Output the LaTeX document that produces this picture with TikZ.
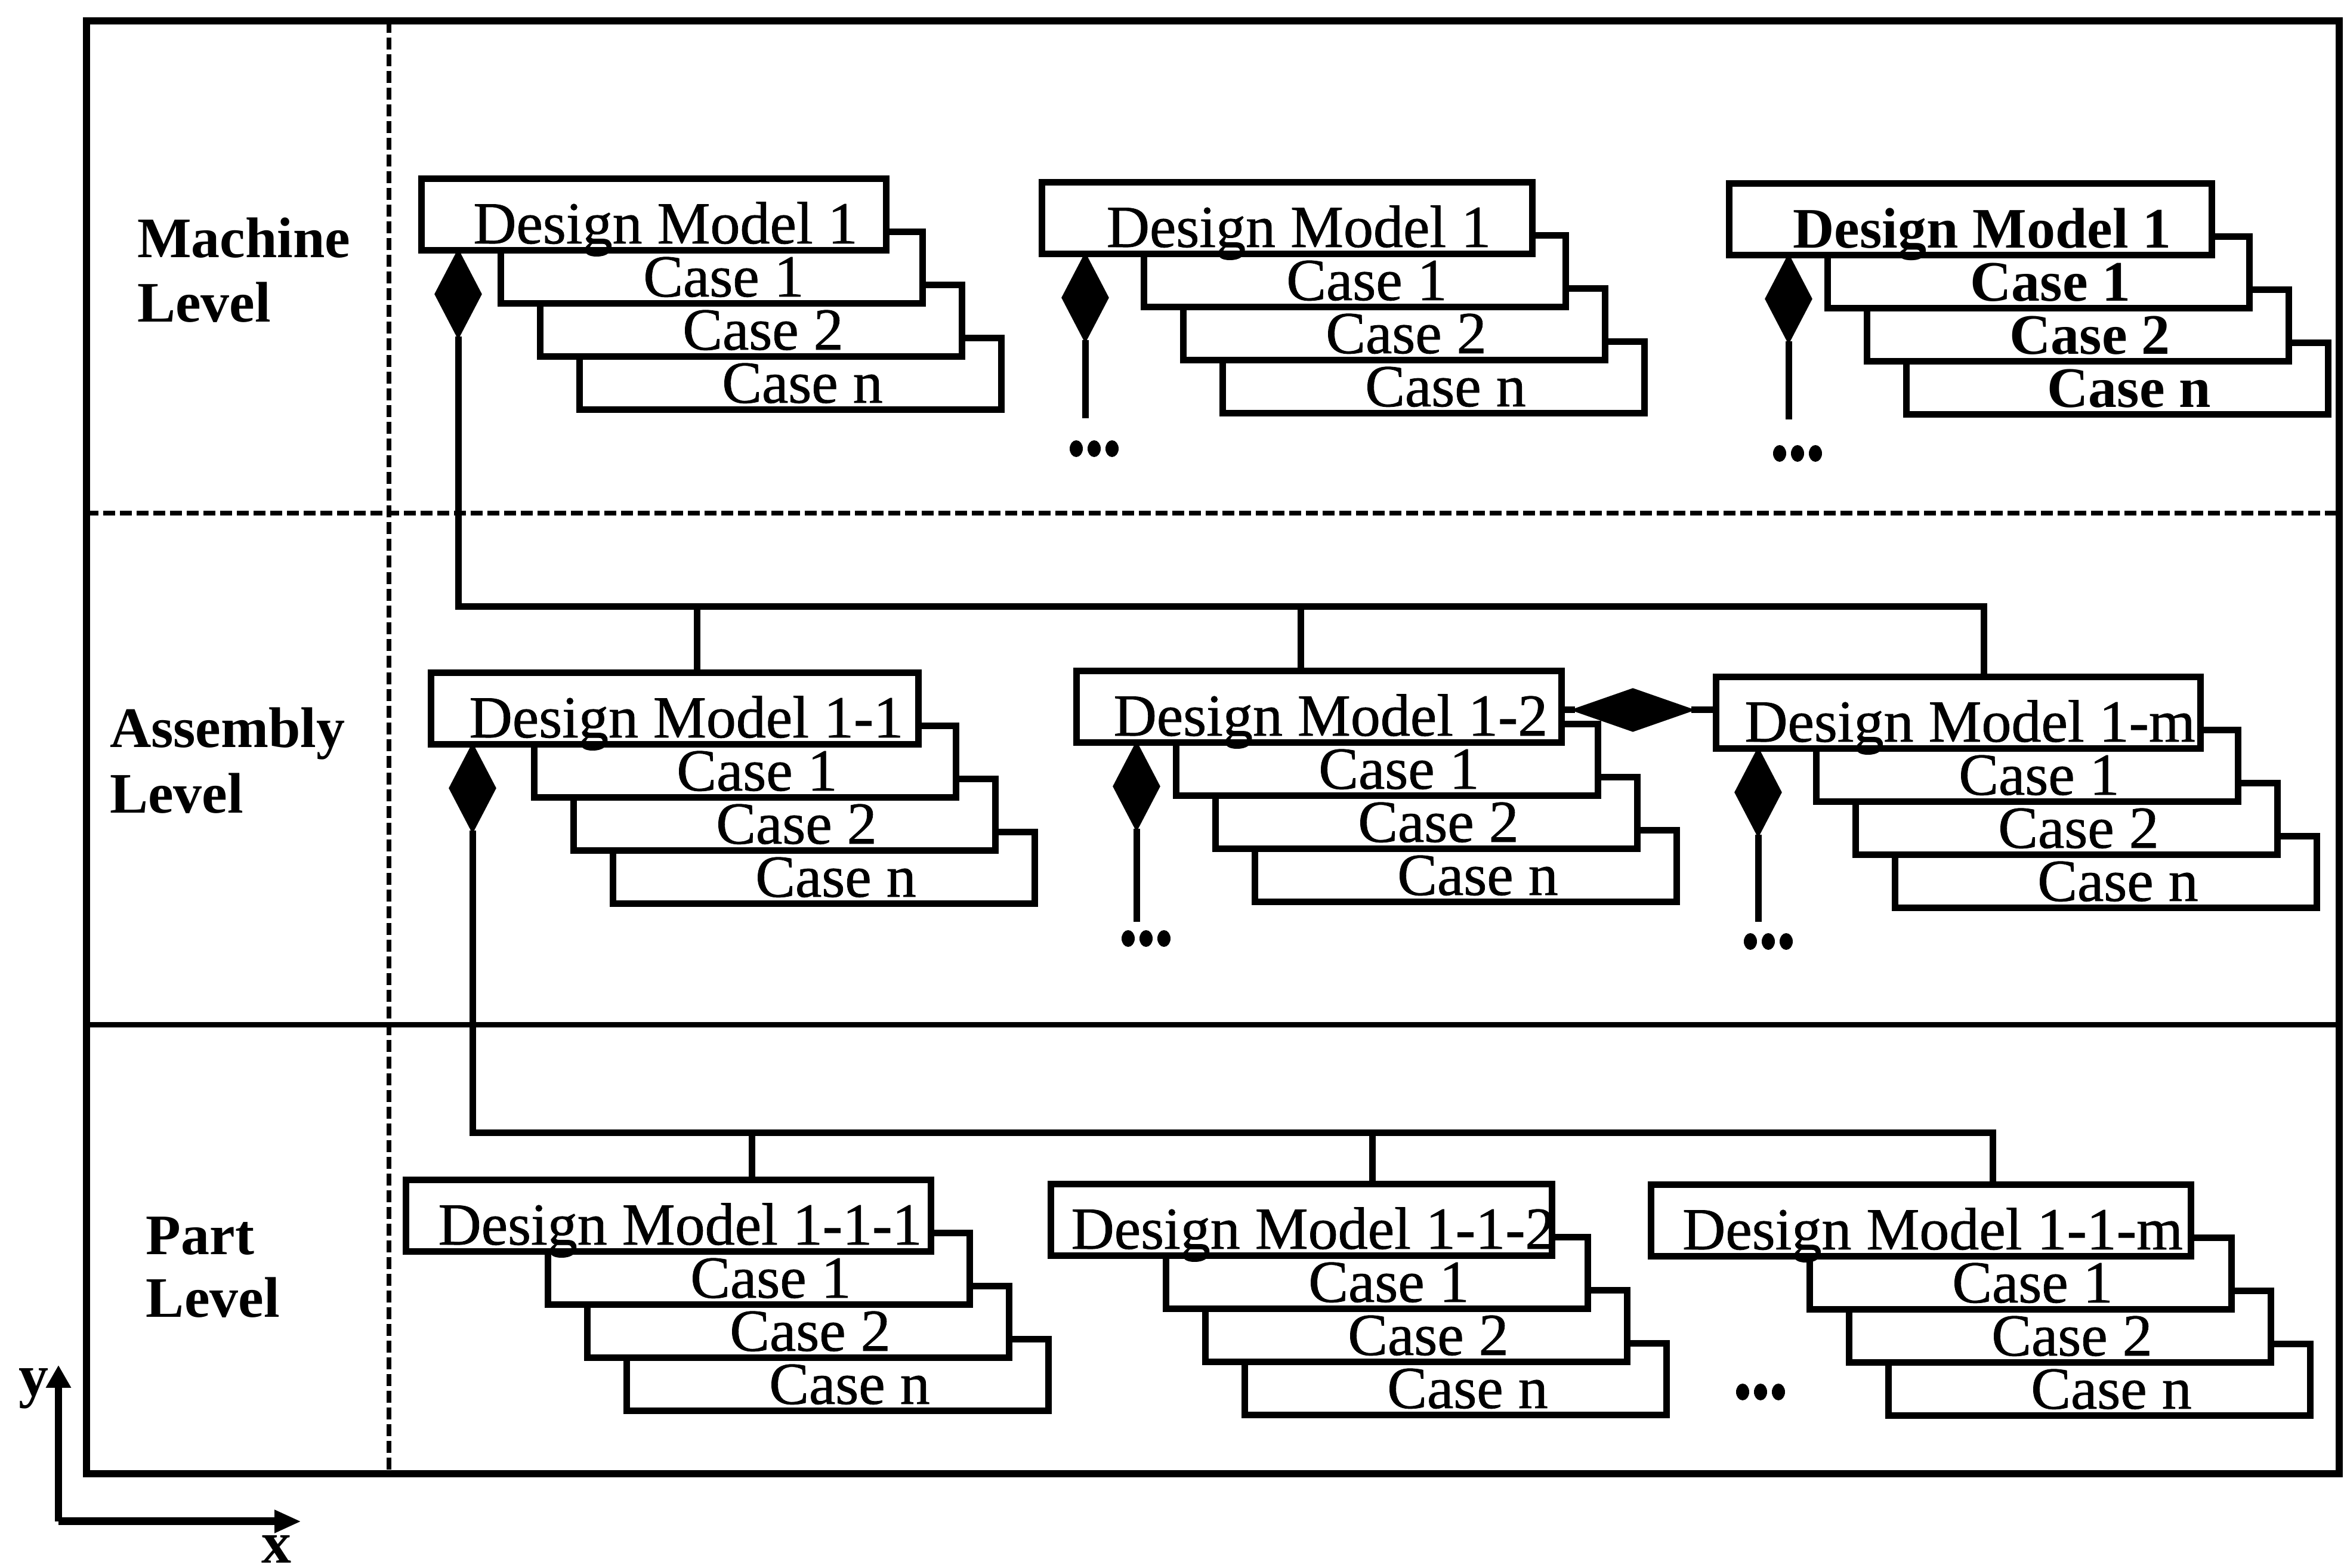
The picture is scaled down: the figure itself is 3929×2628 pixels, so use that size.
\documentclass[tikz,border=0pt]{standalone}
\usepackage{fontspec}
\setmainfont{Liberation Serif}
\newfontfamily\boxfont[FakeBold=0.8]{Liberation Serif}
\usetikzlibrary{shapes.geometric,arrows.meta}
\tikzset{
  box/.style={draw, fill=white, line width=1.1pt, inner sep=0pt, outer sep=0pt, minimum height=12pt, anchor=north west},
  txt/.style={inner sep=0pt, anchor=base, font=\boxfont\fontsize{10pt}{12pt}\selectfont},
  btxt/.style={font=\bfseries\fontsize{9.6pt}{11pt}\selectfont},
  dia/.style={diamond, fill=black, draw=black, line width=0.5pt, inner sep=0pt, outer sep=0pt, minimum width=7.4pt, minimum height=14.2pt},
  hdia/.style={diamond, fill=black, draw=black, line width=0.5pt, inner sep=0pt, outer sep=0pt, minimum width=19.5pt, minimum height=6.8pt},
  conn/.style={line width=1.1pt},
  frameline/.style={line width=1.2pt},
  dashline/.style={line width=0.8pt, dash pattern=on 2pt off 0.8pt},
  lvl/.style={inner sep=0pt, anchor=base west, font=\bfseries\fontsize{9.6pt}{11pt}\selectfont},
  axis/.style={line width=1.3pt},
}
% group of a design model with its cases
\newcommand\grp[7]{%
  \pgfmathsetmacro\dmw{(#3-#2)*0.1}%
  \foreach \k/\lab in {3/n,2/2,1/1}{%
    \pgfmathsetmacro\cx{#5+(\k-1)*66}%
    \pgfmathsetmacro\cy{#4+89*\k}%
    \node[box, minimum width=70.8pt] (#1c\k) at (\cx,\cy) {};
    \node[txt,#7] (#1t\k) at (\cx+374,\cy+108) {Case \lab};
  }
  \node[box, minimum width=\dmw pt] (#1dm) at (#2,#4) {};
  \node[txt,#7] (#1dmt) at ({(#2+#3)/2+20},#4+108) {#6};
}
\newcommand\tripledot[2]{%
  \foreach \d in {-30,0,30}{\fill ({#1+\d},#2) ellipse [x radius=1.1pt, y radius=1.4pt];}%
}
\begin{document}
\begin{tikzpicture}[x=0.1pt,y=-0.1pt]
\useasboundingbox (0,0) rectangle (3929,2628);
% frame and level separators
\draw[frameline] (145,35) rectangle (3921,2470);
\draw[dashline] (652,35) -- (652,2470);
\draw[dashline] (145,860) -- (3921,860);
\draw[line width=0.9pt] (145,1718) -- (3921,1718);
% level labels
\node[lvl] (lm1) at (228,432) {Machine};
\node[lvl] (lm2) at (228,540) {Level};
\node[lvl] (la1) at (182,1253) {Assembly};
\node[lvl] (la2) at (182,1363) {Level};
\node[lvl] (lp1) at (243,2103) {Part};
\node[lvl] (lp2) at (243,2208) {Level};
% machine level
\grp{m1}{706}{1485}{300}{839}{Design Model 1}{}
\grp{m2}{1746}{2568}{306}{1917}{Design Model 1}{}
\grp{m3}{2898}{3707}{308}{3063}{Design Model 1}{btxt}
% assembly level
\grp{a1}{722}{1539}{1128}{895}{Design Model 1-1}{}
\grp{a2}{1804}{2617}{1125}{1971}{Design Model 1-2}{}
\grp{a3}{2876}{3688}{1135}{3044}{Design Model 1-m}{}
% part level
\grp{p1}{680}{1560}{1978}{918}{Design Model 1-1-1}{}
\grp{p2}{1761}{2601}{1985}{1954}{Design Model 1-1-2}{}
\grp{p3}{2767}{3672}{1986}{3033}{Design Model 1-1-m}{}
% diamonds
\node[dia] (m1d) at (768,493) {};
\node[dia] (m2d) at (1819,499) {};
\node[dia] (m3d) at (2998,501) {};
\node[dia] (a1d) at (792,1321) {};
\node[dia] (a2d) at (1905,1318) {};
\node[dia] (a3d) at (2947,1328) {};
\node[hdia] (hd) at (2737,1190) {};
% machine -> assembly
\coordinate (bus1L) at (768,1017);
\coordinate (bus1A) at (1168,1017);
\coordinate (bus1B) at (2180,1017);
\coordinate (bus1C) at (3325,1017);
\draw[conn] (m1d.south) -- (bus1L) -- (bus1C) -- (bus1C |- a3dm.north);
\draw[conn] (bus1A) -- (bus1A |- a1dm.north);
\draw[conn] (bus1B) -- (bus1B |- a2dm.north);
% assembly -> part
\coordinate (bus2L) at (792,1899);
\coordinate (bus2A) at (1260,1899);
\coordinate (bus2B) at (2300,1899);
\coordinate (bus2C) at (3340,1899);
\draw[conn] (a1d.south) -- (bus2L) -- (bus2C) -- (bus2C |- p3dm.north);
\draw[conn] (bus2A) -- (bus2A |- p1dm.north);
\draw[conn] (bus2B) -- (bus2B |- p2dm.north);
% open ends
\coordinate (m2e) at (1819,701);
\coordinate (m3e) at (2998,703);
\coordinate (a2e) at (1905,1545);
\coordinate (a3e) at (2947,1545);
\draw[conn] (m2d.south) -- (m2e);
\draw[conn] (m3d.south) -- (m3e);
\draw[conn] (a2d.south) -- (a2e);
\draw[conn] (a3d.south) -- (a3e);
% horizontal aggregation
\draw[conn] (a2dm.east |- hd.west) -- (hd.west);
\draw[conn] (hd.east) -- (hd.east -| a3dm.west);
% ellipsis dots
\tripledot{1834}{752}
\tripledot{3013}{760}
\tripledot{1921}{1573}
\tripledot{2964}{1578}
\tripledot{2951}{2333}
% axes
\coordinate (axo) at (98,2550);
\coordinate (axy) at (98,2288);
\coordinate (axx) at (505,2550);
\draw[axis,-{Triangle[length=3.8pt,width=4pt]}] (axo) -- (axy);
\draw[axis,-{Triangle[length=4.5pt,width=3.6pt]}] (axo) -- (axx);
\node[inner sep=0pt, anchor=base, font=\bfseries\fontsize{10pt}{12pt}\selectfont] (ly) at (57,2340) {y};
\node[inner sep=0pt, anchor=base, font=\bfseries\fontsize{10pt}{12pt}\selectfont] (lx) at (463,2620) {x};
\end{tikzpicture}
\end{document}
